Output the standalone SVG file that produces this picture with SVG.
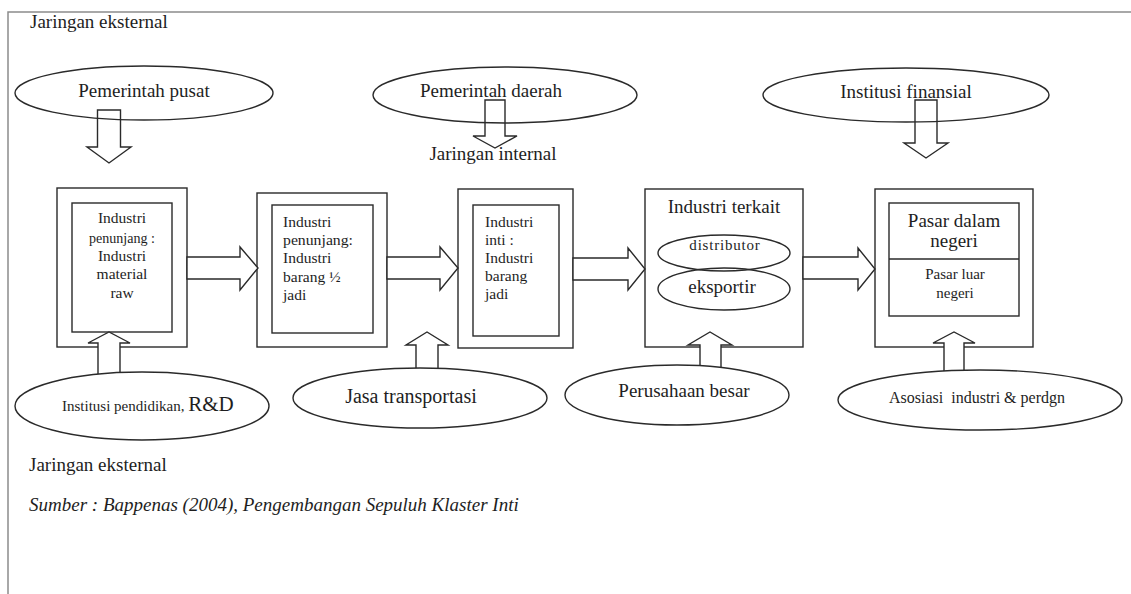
<svg xmlns="http://www.w3.org/2000/svg" width="1131" height="594" viewBox="0 0 1131 594">
<style>
  text { font-family: "Liberation Serif", "Times New Roman", serif; fill: #1e1e1e; }
  .t19 { font-size: 19px; }
  .t16 { font-size: 16px; }
  .t15 { font-size: 15px; }
  .bx { font-size: 15.5px; }
  .mid { text-anchor: middle; }
  .shape { fill: #ffffff; stroke: #2a2a2a; stroke-width: 1.4; }
  .open { fill: none; stroke: #2a2a2a; stroke-width: 1.4; }
  .arrow { fill: #ffffff; stroke: #2a2a2a; stroke-width: 1.4; stroke-linejoin: miter; }
  .arrow-open { fill: none; stroke: #2a2a2a; stroke-width: 1.4; }
</style>
<rect x="0" y="0" width="1131" height="594" fill="#ffffff"/>
<path d="M8,594 L8,12 L1131,12" fill="none" stroke="#8c8c8c" stroke-width="1.5"/>

<text class="t19" x="30" y="28">Jaringan eksternal</text>
<text class="t19 mid" x="493" y="160">Jaringan internal</text>
<text class="t19" x="29" y="471">Jaringan eksternal</text>
<text class="t19" x="29" y="511" font-style="italic" fill="#333333">Sumber : Bappenas (2004), Pengembangan Sepuluh Klaster Inti</text>

<g id="pemerintah-pusat">
  <ellipse class="shape" cx="144" cy="93" rx="129" ry="27"/>
  <text class="t19 mid" x="144" y="97">Pemerintah pusat</text>
</g>
<g id="pemerintah-daerah">
  <ellipse class="shape" cx="505" cy="95" rx="132" ry="28"/>
  <text class="t19 mid" x="491" y="97">Pemerintah daerah</text>
</g>
<g id="institusi-finansial">
  <ellipse class="shape" cx="906" cy="95" rx="143" ry="27"/>
  <text class="t19 mid" x="906" y="98">Institusi finansial</text>
</g>

<g id="box-material">
  <rect class="shape" x="57" y="188" width="130" height="159"/>
  <rect class="shape" x="72" y="203" width="100" height="129"/>
  <text class="bx mid" x="122" y="223">Industri</text>
  <text class="bx mid" x="122" y="243" textLength="66" lengthAdjust="spacingAndGlyphs">penunjang :</text>
  <text class="bx mid" x="122" y="261">Industri</text>
  <text class="bx mid" x="122" y="279">material</text>
  <text class="bx mid" x="122" y="298">raw</text>
</g>
<g id="box-setengah-jadi">
  <rect class="shape" x="257" y="193" width="130" height="154"/>
  <rect class="shape" x="272" y="205" width="101" height="128"/>
  <text class="bx" x="283" y="227">Industri</text>
  <text class="bx" x="283" y="245" textLength="70" lengthAdjust="spacingAndGlyphs">penunjang:</text>
  <text class="bx" x="283" y="263">Industri</text>
  <text class="bx" x="283" y="282">barang ½</text>
  <text class="bx" x="283" y="300">jadi</text>
</g>
<g id="box-inti">
  <rect class="shape" x="458" y="189" width="115" height="159"/>
  <rect class="shape" x="473" y="205" width="86" height="131"/>
  <text class="bx" x="485" y="227">Industri</text>
  <text class="bx" x="485" y="245">inti :</text>
  <text class="bx" x="485" y="263">Industri</text>
  <text class="bx" x="485" y="281">barang</text>
  <text class="bx" x="485" y="299">jadi</text>
</g>
<g id="box-terkait">
  <rect class="shape" x="645" y="189" width="158" height="158"/>
  <text class="t19 mid" x="724" y="213">Industri terkait</text>
  <ellipse class="open" cx="724" cy="253" rx="66" ry="18"/>
  <ellipse class="open" cx="724" cy="289" rx="66" ry="21"/>
  <text class="t15 mid" x="725" y="250" letter-spacing="0.8">distributor</text>
  <text class="t19 mid" x="722" y="293">eksportir</text>
</g>
<g id="box-pasar">
  <rect class="shape" x="875" y="189" width="158" height="158"/>
  <rect class="shape" x="889" y="203" width="130" height="113"/>
  <line class="open" x1="889" y1="259" x2="1019" y2="259"/>
  <text class="t19 mid" x="954" y="227">Pasar dalam</text>
  <text class="t19 mid" x="954" y="247">negeri</text>
  <text class="t15 mid" x="955" y="279">Pasar luar</text>
  <text class="t15 mid" x="955" y="298">negeri</text>
</g>

<g id="connectors">
  <polygon class="arrow-open" points="97.5,110 120.5,110 120.5,147 131,147 109,163 87,147 97.5,147"/>
  <polygon class="arrow-open" points="485,100 505,100 505,136 517,136 495,148 473,136 485,136"/>
  <polygon class="arrow-open" points="915,100 937,100 937,143 948,143 926,158 904,143 915,143"/>
  <polygon class="arrow" points="187,257 240,257 240,247 258,268 240,290 240,279 187,279"/>
  <polygon class="arrow" points="387,257 440,257 440,247 458,268 440,290 440,279 387,279"/>
  <polygon class="arrow" points="573,258 628,258 628,248 645,269 628,290 628,280 573,280"/>
  <polygon class="arrow" points="803,257 858,257 858,248 875,269 858,290 858,279 803,279"/>
  <polygon class="arrow" points="98,385 98,343 88,343 109,332 130,343 120,343 120,385"/>
  <polygon class="arrow" points="416,385 416,345 406,345 427,332 448,345 438,345 438,385"/>
  <polygon class="arrow" points="700,380 700,345 688,345 710,332 732,345 721,345 721,380"/>
  <polygon class="arrow" points="944,385 944,343 933,343 954,332 975,343 964,343 964,385"/>
</g>

<g id="institusi-pendidikan">
  <ellipse class="shape" cx="142" cy="406" rx="127" ry="34"/>
  <text x="62" y="411"><tspan font-size="15px">Institusi pendidikan, </tspan><tspan font-size="21px">R&amp;D</tspan></text>
</g>
<g id="jasa-transportasi">
  <ellipse class="shape" cx="420" cy="398" rx="127" ry="30"/>
  <text class="mid" x="411" y="403" font-size="20px">Jasa transportasi</text>
</g>
<g id="perusahaan-besar">
  <ellipse class="shape" cx="677" cy="395" rx="112" ry="30"/>
  <text class="t19 mid" x="684" y="397">Perusahaan besar</text>
</g>
<g id="asosiasi">
  <ellipse class="shape" cx="980" cy="400" rx="142" ry="30"/>
  <text class="t16 mid" x="977" y="403" xml:space="preserve" style="white-space:pre">Asosiasi  industri &amp; perdgn</text>
</g>
</svg>
